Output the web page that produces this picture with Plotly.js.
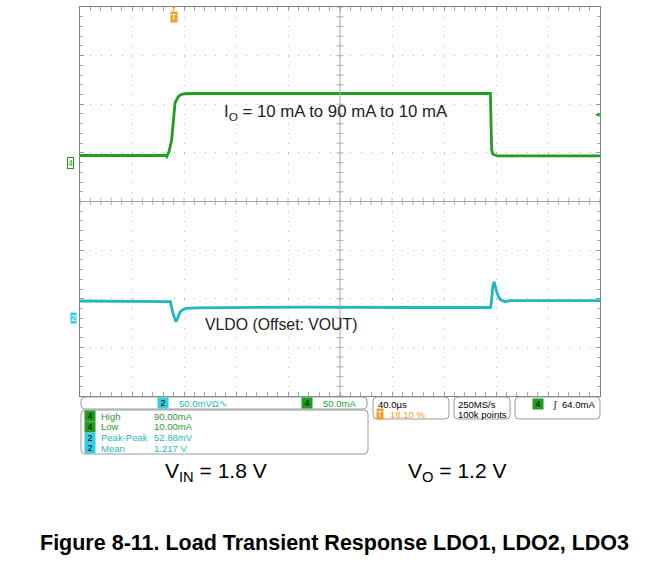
<!DOCTYPE html>
<html>
<head>
<meta charset="utf-8">
<script src="https://cdn.plot.ly/plotly-3.0.1.min.js"></script>
<style>html,body{margin:0;padding:0;background:#fff;}#chart{width:663px;height:571px;}</style>
</head>
<body>
<div id="chart"></div>
<script>
// ---- Data (time in µs, 40 µs/div) ----
var ioTime = [0, 60, 66, 66.7, 68.5, 70.5, 71.5, 73.1, 75.6, 77.7, 80.8, 88.5, 200, 315.7, 316.2, 316.7, 317.5, 319, 321, 330, 400];
var ioCurrent = [10, 10, 10, 8.5, 15, 30, 47, 78, 86, 88.5, 89.7, 90, 90, 90, 50, 17, 12, 10.5, 9.4, 9.5, 9.5]; // mA

var vTime = [0, 68, 69.5, 71.5, 73.8, 75.5, 77, 79.2, 81.5, 90, 120, 170, 260, 315.8, 316.6, 317.5, 318.5, 319.5, 320.8, 323, 326.9, 330.8, 400];
var vOut = [1.2175, 1.2175, 1.2168, 1.2050, 1.1962, 1.2010, 1.2062, 1.2085, 1.2098, 1.2104, 1.2108, 1.2112, 1.2108, 1.2108, 1.2180, 1.2320, 1.2373, 1.2330, 1.2257, 1.2192, 1.2168, 1.2178, 1.2178]; // V

var measLabels = ["High", "Low", "Peak-Peak", "Mean"];
var measValues = ["90.00mA", "10.00mA", "52.88mV", "1.217 V"];
var measChannels = ["4", "4", "2", "2"];

var GREEN = "#1f9e1f", CYAN = "#1fb8c0", ORANGE = "#f0a020", BADGECYAN = "#30d0e0";

// pixel -> paper helpers (plot area 80..600 x 7..396)
function X(px){ return (px - 80) / 520; }
function Y(py){ return (396 - py) / 389; }
function roundRect(x0, y0, x1, y1, r){
  var rx = r / 520, ry = r / 389;
  var a = X(x0), b = X(x1), t = Y(y0), u = Y(y1);
  return "M" + (a+rx) + "," + t + " L" + (b-rx) + "," + t + " Q" + b + "," + t + " " + b + "," + (t-ry) +
    " L" + b + "," + (u+ry) + " Q" + b + "," + u + " " + (b-rx) + "," + u +
    " L" + (a+rx) + "," + u + " Q" + a + "," + u + " " + a + "," + (u+ry) +
    " L" + a + "," + (t-ry) + " Q" + a + "," + t + " " + (a+rx) + "," + t + " Z";
}

// crosshair tick decorations
var hx = [], hy = [], vx = [], vy = [];
for (var i = 0; i <= 50; i++){ hx.push(i * 8); hy.push(0); }
for (var j = 0; j <= 40; j++){ vy.push(-4 + j * 0.2); vx.push(200); }

var traces = [
  {x: hx, y: hy, xaxis: "x", yaxis: "y", mode: "markers", hoverinfo: "skip", showlegend: false,
   marker: {symbol: "line-ns", size: 5, line: {width: 1, color: "#b0b0b0"}}},
  {x: vx, y: vy, xaxis: "x", yaxis: "y", mode: "markers", hoverinfo: "skip", showlegend: false,
   marker: {symbol: "line-ew", size: 5, line: {width: 1, color: "#b0b0b0"}}},
  {x: ioTime, y: ioCurrent, xaxis: "x", yaxis: "y2", mode: "lines", name: "IO", showlegend: false,
   line: {color: GREEN, width: 2.8}},
  {x: vTime, y: vOut, xaxis: "x", yaxis: "y3", mode: "lines", name: "VLDO", showlegend: false,
   line: {color: CYAN, width: 2.8}}
];

var shapes = [
  {type: "line", xref: "x", yref: "paper", x0: 200, x1: 200, y0: 0, y1: 1, line: {color: "#a8a8a8", width: 1}},
  {type: "path", xref: "paper", yref: "paper", path: roundRect(81, 397, 367, 409, 4), line: {color: "#9a9a9a", width: 1}, fillcolor: "#fff"},
  {type: "path", xref: "paper", yref: "paper", path: roundRect(81, 410, 368, 454, 4), line: {color: "#9a9a9a", width: 1}, fillcolor: "#fff"},
  {type: "path", xref: "paper", yref: "paper", path: roundRect(373, 397, 449, 419, 4), line: {color: "#9a9a9a", width: 1}, fillcolor: "#fff"},
  {type: "path", xref: "paper", yref: "paper", path: roundRect(454, 397, 510, 419, 4), line: {color: "#9a9a9a", width: 1}, fillcolor: "#fff"},
  {type: "path", xref: "paper", yref: "paper", path: roundRect(515, 397, 600, 419, 4), line: {color: "#9a9a9a", width: 1}, fillcolor: "#fff"}
];

var SCOPE = "Liberation Sans, Arial, sans-serif";
var ARIAL = "Liberation Sans, Arial, sans-serif";
function txt(text, px, py, color, size, anchor){
  return {text: text, xref: "paper", yref: "paper", x: X(px), y: Y(py), xanchor: anchor || "left", yanchor: "middle",
    showarrow: false, font: {family: SCOPE, size: size || 9.5, color: color || "#000"}};
}
function badge(text, px, py, bg, fg){
  return {text: "&nbsp;" + text + "&nbsp;", xref: "paper", yref: "paper", x: X(px), y: Y(py), xanchor: "center", yanchor: "middle",
    showarrow: false, bgcolor: bg, borderpad: 0, font: {family: SCOPE, size: 9, color: fg || "#000"}};
}

var ann = [
  {text: "I<sub>O</sub> = 10 mA to 90 mA to 10 mA", xref: "paper", yref: "paper", x: X(336), y: Y(112), xanchor: "center", yanchor: "middle",
   showarrow: false, font: {family: ARIAL, size: 16.8, color: "#222"}},
  {text: "VLDO (Offset: VOUT)", xref: "paper", yref: "paper", x: X(281), y: Y(324), xanchor: "center", yanchor: "middle",
   showarrow: false, font: {family: ARIAL, size: 15.8, color: "#222"}},
  {text: "V<sub>IN</sub> = 1.8 V", xref: "paper", yref: "paper", x: X(216), y: Y(472), xanchor: "center", yanchor: "middle",
   showarrow: false, font: {family: ARIAL, size: 21, color: "#000"}},
  {text: "V<sub>O</sub> = 1.2 V", xref: "paper", yref: "paper", x: X(457), y: Y(472), xanchor: "center", yanchor: "middle",
   showarrow: false, font: {family: ARIAL, size: 21, color: "#000"}},
  {text: "<b>Figure 8-11. Load Transient Response LDO1, LDO2, LDO3</b>", xref: "paper", yref: "paper", x: X(334), y: Y(543), xanchor: "center", yanchor: "middle",
   showarrow: false, font: {family: ARIAL, size: 21.5, color: "#000"}},
  // channel markers
  {text: "4", xref: "paper", yref: "paper", x: X(70), y: Y(163), xanchor: "center", yanchor: "middle", showarrow: false,
   bordercolor: GREEN, borderwidth: 1, borderpad: 0, bgcolor: "#fff", font: {family: SCOPE, size: 9, color: GREEN}},
  {text: "2", xref: "paper", yref: "paper", x: X(73), y: Y(318), xanchor: "center", yanchor: "middle", showarrow: false,
   bgcolor: BADGECYAN, borderpad: 0, font: {family: SCOPE, size: 9, color: "#fff"}},
  {text: "◂", xref: "paper", yref: "paper", x: X(597), y: Y(114), xanchor: "center", yanchor: "middle", showarrow: false,
   font: {family: "DejaVu Sans", size: 9, color: GREEN}},
  {text: "▾", xref: "paper", yref: "paper", x: X(174), y: Y(8), xanchor: "center", yanchor: "middle", showarrow: false,
   font: {family: "DejaVu Sans", size: 7, color: ORANGE}},
  {text: "T", xref: "paper", yref: "paper", x: X(174), y: Y(17), xanchor: "center", yanchor: "middle", showarrow: false,
   bgcolor: ORANGE, borderpad: 0, font: {family: SCOPE, size: 9, color: "#fff"}},
  // row 1
  badge("2", 162.5, 403, BADGECYAN),
  txt("50.0mVΩ∿", 177, 403, CYAN),
  badge("4", 306.5, 403, GREEN),
  txt("50.0mA", 321, 403, GREEN),
  txt("40.0µs", 376, 404, "#000"),
  {text: "T", xref: "paper", yref: "paper", x: X(380), y: Y(414), xanchor: "center", yanchor: "middle", showarrow: false,
   bgcolor: ORANGE, borderpad: 0, font: {family: SCOPE, size: 9, color: "#fff"}},
  txt("18.10 %", 388, 414, ORANGE),
  txt("250MS/s", 456, 404, "#000"),
  txt("100k points", 456, 414, "#000"),
  badge("4", 538, 404, GREEN),
  txt("ʃ", 551, 404, "#000"),
  txt("64.0mA", 560, 404, "#000")
];
var rowsY = [416, 426.5, 437.5, 448];
for (var k = 0; k < measLabels.length; k++){
  var isG = measChannels[k] === "4";
  var col = isG ? GREEN : CYAN;
  ann.push(badge(measChannels[k], 90, rowsY[k], isG ? GREEN : BADGECYAN));
  ann.push(txt(measLabels[k], 99, rowsY[k], col));
  ann.push(txt(measValues[k], 152, rowsY[k], col));
}

var layout = {
  width: 663, height: 571,
  margin: {l: 80, r: 63, t: 7, b: 175, pad: 0},
  paper_bgcolor: "#fff", plot_bgcolor: "#fff",
  showlegend: false,
  xaxis: {range: [0, 400], tick0: 0, dtick: 40, showgrid: true, gridcolor: "#b5b5b5", gridwidth: 1, griddash: "1px,8.72px",
    zeroline: false, showline: true, linecolor: "#808080", linewidth: 1, mirror: "allticks",
    ticks: "inside", ticklen: 4, tickcolor: "#999", showticklabels: false,
    minor: {dtick: 8, tick0: 0, ticks: "inside", ticklen: 3, tickcolor: "#aaa", showgrid: false}, fixedrange: true},
  yaxis: {range: [-4, 4], tick0: 0, dtick: 1, showgrid: true, gridcolor: "#b5b5b5", gridwidth: 1, griddash: "1px,9.4px",
    zeroline: true, zerolinecolor: "#a8a8a8", zerolinewidth: 1,
    showline: true, linecolor: "#808080", linewidth: 1, mirror: "allticks",
    ticks: "inside", ticklen: 4, tickcolor: "#999", showticklabels: false,
    minor: {dtick: 0.2, tick0: 0, ticks: "inside", ticklen: 3, tickcolor: "#aaa", showgrid: false}, fixedrange: true},
  yaxis2: {overlaying: "y", range: [-300.3, 201.6], visible: false, fixedrange: true},
  yaxis3: {overlaying: "y", range: [1.1198, 1.5198], visible: false, fixedrange: true},
  shapes: shapes,
  annotations: ann
};

Plotly.newPlot("chart", traces, layout, {displayModeBar: false, staticPlot: true});
</script>
</body>
</html>
